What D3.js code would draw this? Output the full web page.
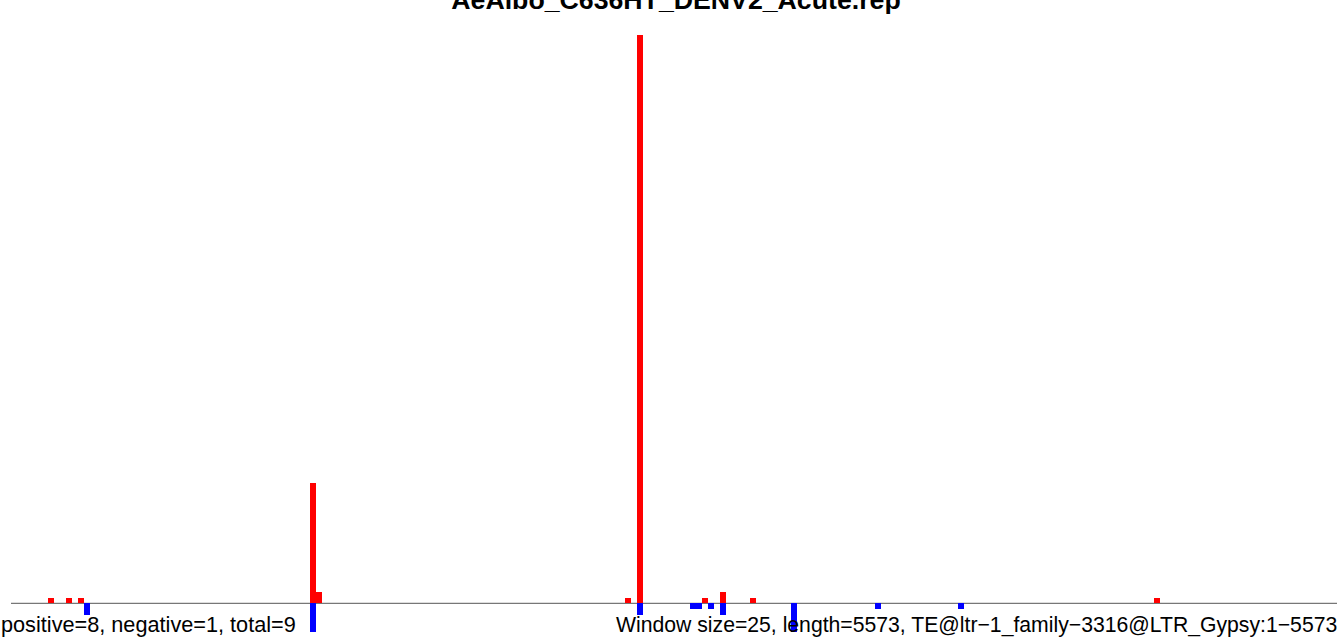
<!DOCTYPE html>
<html>
<head>
<meta charset="utf-8">
<script src="https://cdn.jsdelivr.net/npm/d3@7"></script>
<style>
  html, body { margin: 0; padding: 0; background: #fff; overflow: hidden; }
  svg { display: block; }
</style>
</head>
<body>
<svg id="chart" width="1337" height="637"></svg>
<script>
// ---- data ----
const titleText = "AeAlbo_C636HT_DENV2_Acute.rep";
const seqLength = 5573;
const windowSize = 25;
// positive-strand windows (window start in bp) and counts
const posStarts = [150, 225, 275, 1250, 1275, 2575, 2625, 2900, 2975, 3100, 4800];
const posValues = [1, 1, 1, 21, 2, 1, 99, 1, 2, 1, 1];
// negative-strand windows and counts
const negStarts = [300, 1250, 2625, 2850, 2875, 2925, 2975, 3275, 3625, 3975];
const negValues = [2, 5, 2, 1, 1, 1, 2, 5, 1, 1];
const leftNote = "positive=8, negative=1, total=9";
const rightNote = "Window size=25, length=5573, TE@ltr\u22121_family\u22123316@LTR_Gypsy:1\u22125573";

// ---- layout ----
const svg = d3.select("#chart");
const W = 1337, H = 637;
const x = d3.scaleLinear().domain([0, seqLength]).range([12.5, 1338]);
const y = d3.scaleLinear().domain([0, 99]).range([603.3, 35]);

const pos = posStarts.map((s, i) => ({ start: s, v: posValues[i] }));
const neg = negStarts.map((s, i) => ({ start: s, v: negValues[i] }));

// baseline
svg.append("line")
  .attr("x1", 11).attr("x2", W)
  .attr("y1", y(0)).attr("y2", y(0))
  .attr("stroke", "#555").attr("stroke-width", 1);

svg.append("g").selectAll("rect").data(pos).join("rect")
  .attr("x", d => x(d.start))
  .attr("width", d => x(d.start + windowSize) - x(d.start))
  .attr("y", d => y(d.v))
  .attr("height", d => y(0) - y(d.v))
  .attr("fill", "#ff0000")
  .attr("shape-rendering", "crispEdges");

svg.append("g").selectAll("rect").data(neg).join("rect")
  .attr("x", d => x(d.start))
  .attr("width", d => x(d.start + windowSize) - x(d.start))
  .attr("y", y(0))
  .attr("height", d => y(0) - y(d.v))
  .attr("fill", "#0000ff")
  .attr("shape-rendering", "crispEdges");

// title
svg.append("text")
  .attr("x", 676).attr("y", 9)
  .attr("text-anchor", "middle")
  .attr("font-family", "Liberation Sans, Arial, Helvetica, sans-serif")
  .attr("font-weight", "bold")
  .attr("font-size", "26.7px")
  .attr("fill", "#000")
  .text(titleText);

// notes
svg.append("text")
  .attr("x", 1).attr("y", 632)
  .attr("font-family", "Liberation Sans, Arial, Helvetica, sans-serif")
  .attr("font-size", "21.7px")
  .attr("fill", "#000")
  .text(leftNote);

svg.append("text")
  .attr("x", 616).attr("y", 632)
  .attr("font-family", "Liberation Sans, Arial, Helvetica, sans-serif")
  .attr("font-size", "21.2px")
  .attr("fill", "#000")
  .text(rightNote);
</script>
</body>
</html>
